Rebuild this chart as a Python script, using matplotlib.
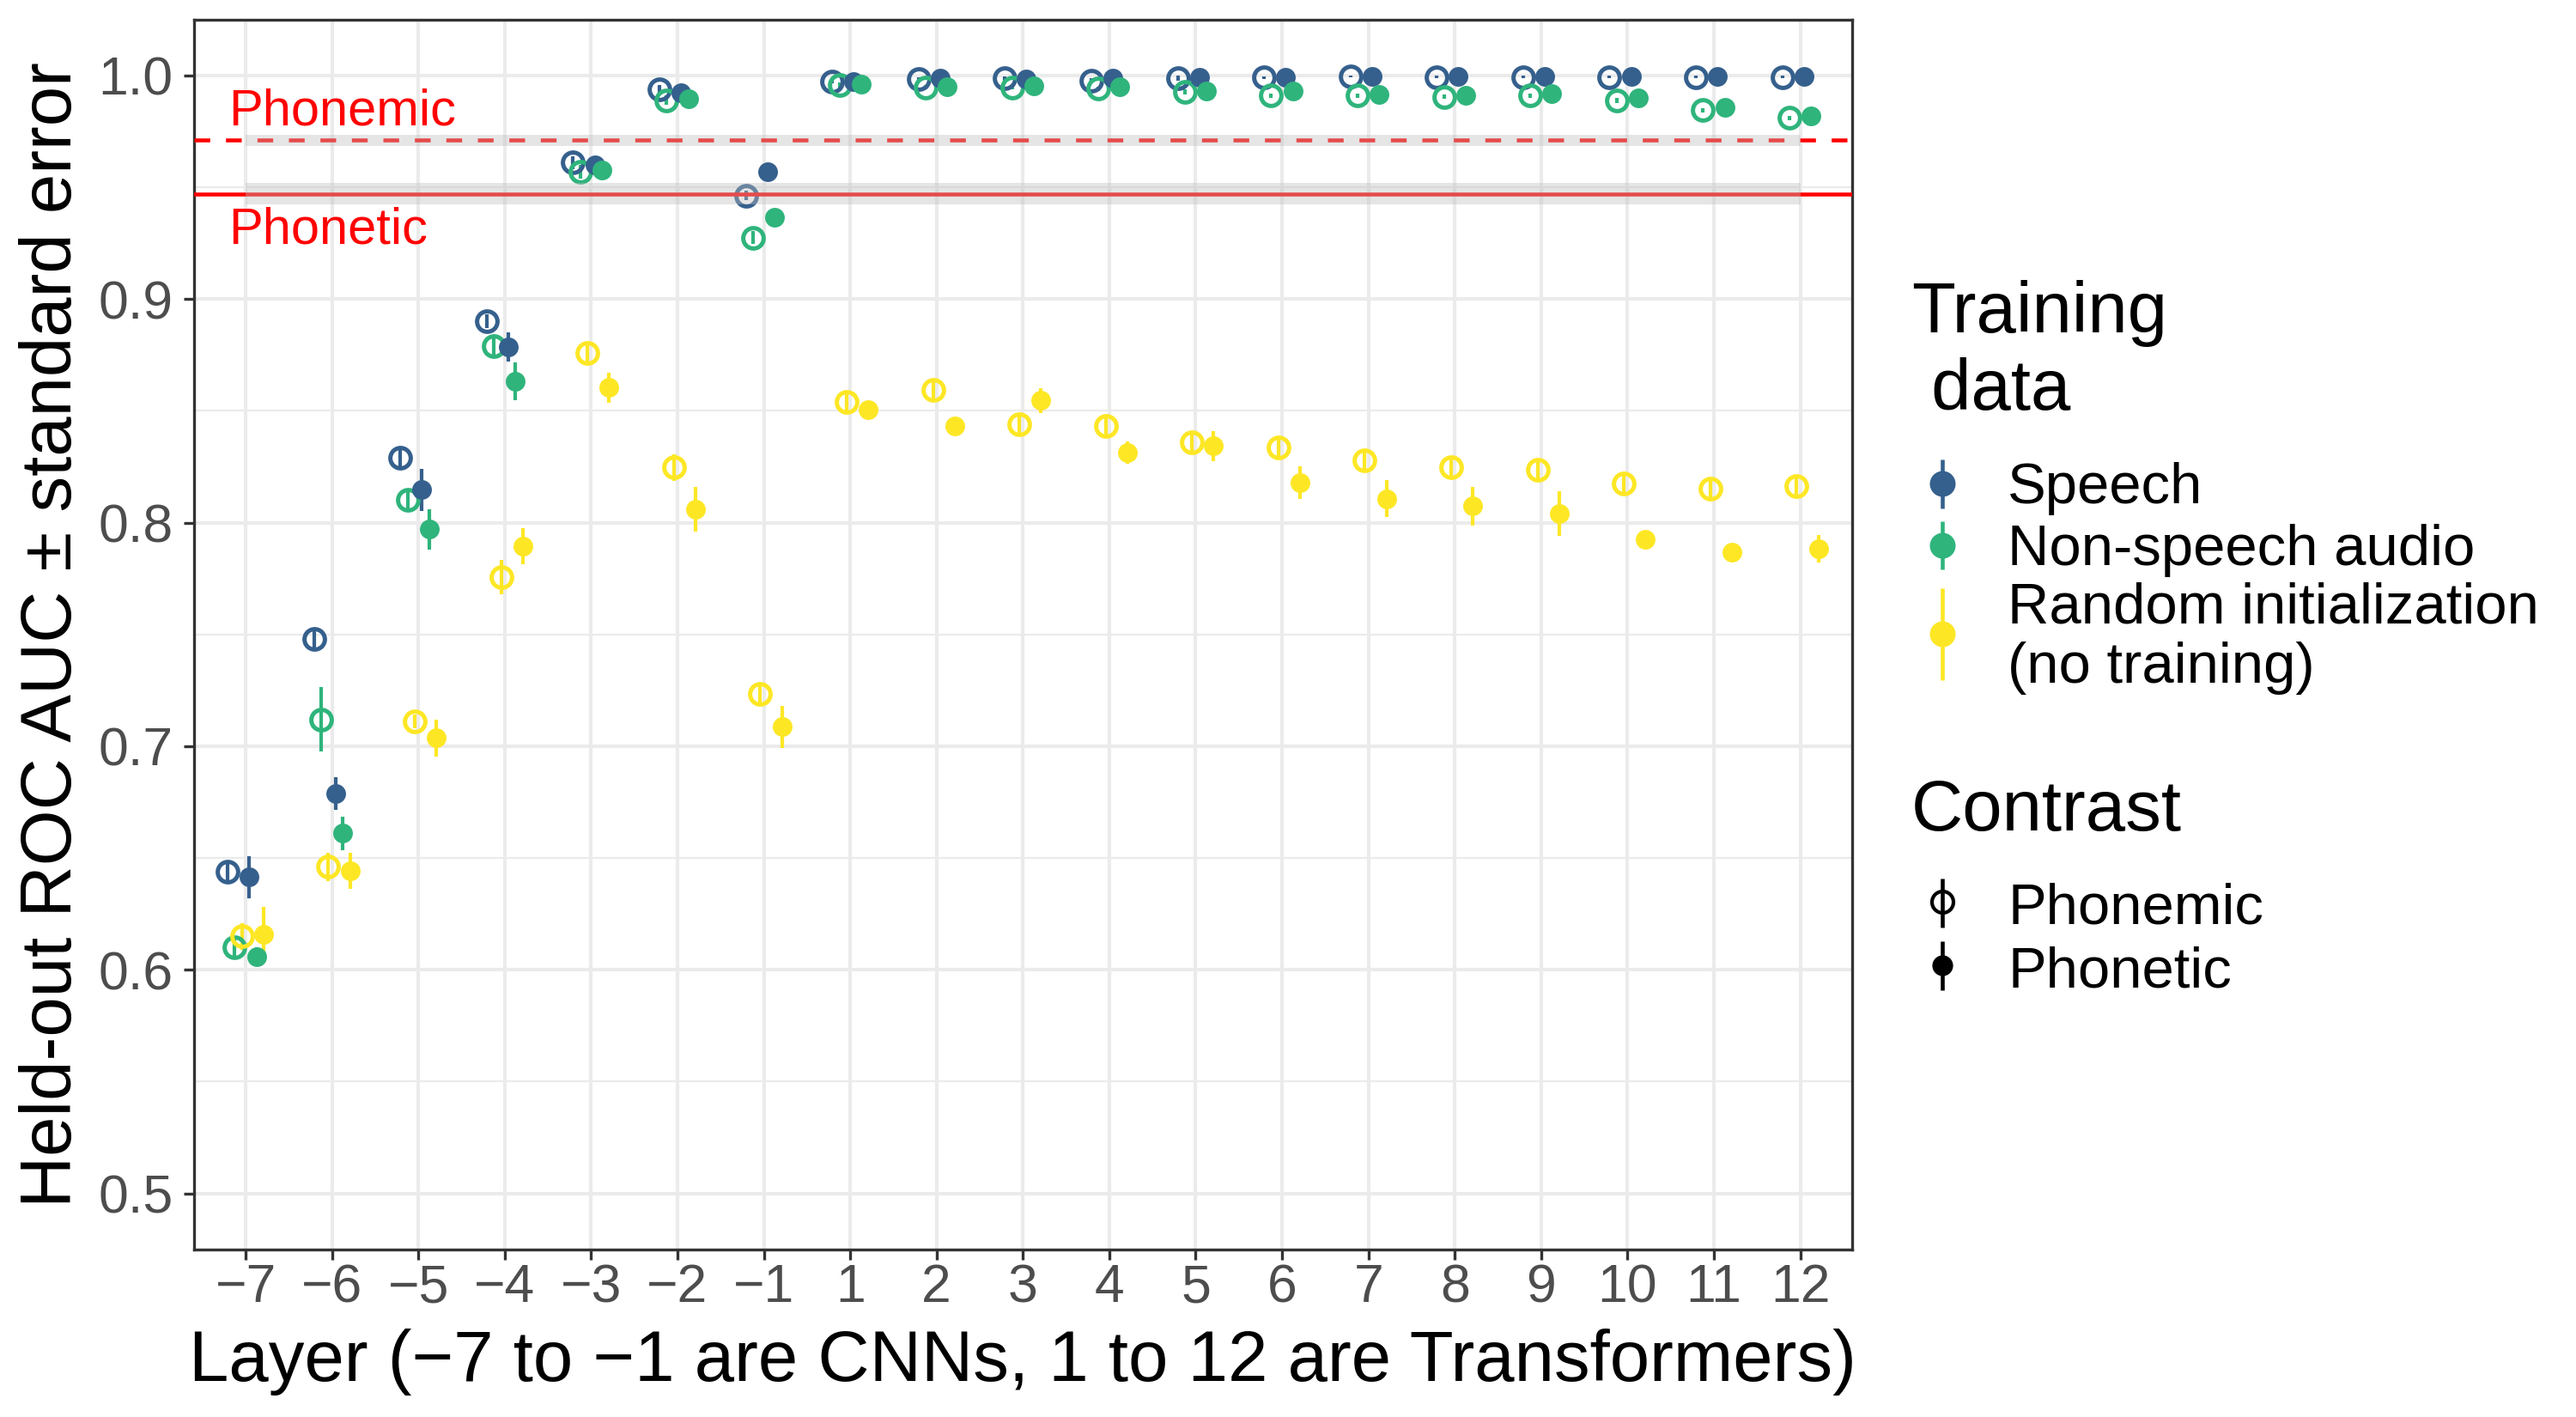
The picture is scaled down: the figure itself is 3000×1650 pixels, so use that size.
import matplotlib.pyplot as plt
from matplotlib.lines import Line2D
from matplotlib.ticker import FixedLocator
import numpy as np

plt.rcParams['font.family'] = ['Liberation Sans', 'DejaVu Sans']

# Layers: -7..-1 are CNN layers, 1..12 transformer layers
layers = ['−7', '−6', '−5', '−4', '−3', '−2', '−1',
          '1', '2', '3', '4', '5', '6', '7', '8', '9', '10', '11', '12']

training = ['Speech', 'Non-speech audio', 'Random initialization\n(no training)']
train_colors = ['#35608D', '#2FB47C', '#FDE725']
contrasts = ['Phonemic', 'Phonetic']

# held-out ROC AUC (mean) and standard error
speech_phonemic = [0.644, 0.748, 0.829, 0.890, 0.961, 0.9937, 0.9463, 0.9974, 0.9983, 0.9986,
                   0.9978, 0.9988, 0.9990, 0.9995, 0.9993, 0.9993, 0.9993, 0.9993, 0.9993]
speech_phonemic_se = [0.004, 0.004, 0.004, 0.003, 0.003, 0.002, 0.002, 0.001, 0.001, 0.001,
                      0.001, 0.001, 0.0005, 0.0005, 0.0005, 0.0005, 0.0005, 0.0005, 0.0005]
nonspeech_phonemic = [0.610, 0.712, 0.810, 0.879, 0.957, 0.9889, 0.9275, 0.9957, 0.9947, 0.9947,
                      0.9940, 0.9926, 0.9909, 0.9909, 0.9905, 0.9910, 0.9888, 0.9845, 0.9810]
nonspeech_phonemic_se = [0.004, 0.0145, 0.004, 0.004, 0.003, 0.002, 0.003, 0.001, 0.001, 0.001,
                         0.001, 0.001, 0.001, 0.001, 0.001, 0.001, 0.001, 0.001, 0.001]
random_phonemic = [0.615, 0.646, 0.711, 0.7757, 0.876, 0.8247, 0.7233, 0.8539, 0.8595, 0.8439,
                   0.8434, 0.8361, 0.8335, 0.8277, 0.8248, 0.8236, 0.8174, 0.8153, 0.8163]
random_phonemic_se = [0.006, 0.0063, 0.003, 0.0077, 0.004, 0.006, 0.005, 0.004, 0.004, 0.004,
                      0.004, 0.004, 0.004, 0.004, 0.004, 0.005, 0.004, 0.004, 0.004]

speech_phonetic = [0.6415, 0.679, 0.8147, 0.8785, 0.960, 0.9921, 0.9569, 0.9972, 0.9986, 0.9983,
                   0.9986, 0.9991, 0.9993, 0.9997, 0.9995, 0.9995, 0.9995, 0.9995, 0.9995]
speech_phonetic_se = [0.0094, 0.0073, 0.0094, 0.0065, 0.003, 0.002, 0.002, 0.001, 0.001, 0.001,
                      0.001, 0.001, 0.001, 0.001, 0.001, 0.001, 0.001, 0.001, 0.001]
nonspeech_phonetic = [0.606, 0.661, 0.797, 0.8631, 0.9578, 0.9895, 0.9364, 0.9960, 0.9950, 0.9952,
                      0.9950, 0.9931, 0.9930, 0.9916, 0.9909, 0.9919, 0.9898, 0.9857, 0.9820]
nonspeech_phonetic_se = [0.004, 0.0074, 0.009, 0.0085, 0.003, 0.002, 0.003, 0.001, 0.001, 0.001,
                         0.001, 0.001, 0.001, 0.001, 0.001, 0.001, 0.001, 0.001, 0.001]
random_phonetic = [0.616, 0.6442, 0.7037, 0.7895, 0.8604, 0.8058, 0.7087, 0.8504, 0.8434, 0.8546,
                   0.8313, 0.8342, 0.8179, 0.8107, 0.8074, 0.8041, 0.7926, 0.7869, 0.7883]
random_phonetic_se = [0.012, 0.008, 0.0083, 0.008, 0.0068, 0.010, 0.0094, 0.003, 0.003, 0.0055,
                      0.005, 0.0067, 0.0074, 0.0082, 0.0086, 0.010, 0.003, 0.003, 0.006]

# human reference levels with their standard errors
ref_phonemic, ref_phonemic_se = 0.971, 0.0026
ref_phonetic, ref_phonetic_se = 0.947, 0.0048

groups = [
    ('Phonemic', 0, speech_phonemic, speech_phonemic_se),
    ('Phonemic', 1, nonspeech_phonemic, nonspeech_phonemic_se),
    ('Phonemic', 2, random_phonemic, random_phonemic_se),
    ('Phonetic', 0, speech_phonetic, speech_phonetic_se),
    ('Phonetic', 1, nonspeech_phonetic, nonspeech_phonetic_se),
    ('Phonetic', 2, random_phonetic, random_phonetic_se),
]

W, H = 3000, 1650
fig = plt.figure(figsize=(10, 5.5), dpi=300)
ax = fig.add_axes([225.7 / W, 1 - 1454.7 / H, (2156.9 - 225.7) / W, (1454.7 - 22.7) / H])

x = np.arange(1, len(layers) + 1)
offsets = (np.arange(len(groups)) - 2.5) * (0.5 / len(groups))

# error bars first, then points (like geom_pointrange)
for k, (contrast, ti, vals, se) in enumerate(groups):
    v = np.array(vals)
    s = np.array(se)
    ax.vlines(x + offsets[k], v - s, v + s, color=train_colors[ti], lw=1.0, zorder=3)
for k, (contrast, ti, vals, se) in enumerate(groups):
    c = train_colors[ti]
    if contrast == 'Phonemic':
        ax.plot(x + offsets[k], vals, 'o', ms=5.7, mfc='none', mec=c, mew=1.2, zorder=4)
    else:
        ax.plot(x + offsets[k], vals, 'o', ms=5.5, mfc=c, mec=c, mew=0, zorder=4)

# reference lines + ribbons
ax.axhline(ref_phonemic, color='red', lw=1.1, ls=(0, (4, 4)), zorder=5)
ax.axhline(ref_phonetic, color='red', lw=1.1, zorder=5)
ax.fill_between([x[0], x[-1]], ref_phonemic - ref_phonemic_se, ref_phonemic + ref_phonemic_se,
                color='#BEBEBE', alpha=0.4, lw=0, zorder=6)
ax.fill_between([x[0], x[-1]], ref_phonetic - ref_phonetic_se, ref_phonetic + ref_phonetic_se,
                color='#BEBEBE', alpha=0.4, lw=0, zorder=6)
ax.text(0.8, 0.9778, 'Phonemic', color='red', fontsize=14.3, ha='left', va='baseline', zorder=7)
ax.text(0.8, 0.9249, 'Phonetic', color='red', fontsize=14.3, ha='left', va='baseline', zorder=7)

ax.set_xlim(0.4, len(layers) + 0.6)
ax.set_ylim(0.475, 1.025)
ax.set_xticks(x)
ax.set_xticklabels(layers)
ax.set_yticks([0.5, 0.6, 0.7, 0.8, 0.9, 1.0])
ax.set_yticklabels(['0.5', '0.6', '0.7', '0.8', '0.9', '1.0'])
ax.yaxis.set_minor_locator(FixedLocator([0.55, 0.65, 0.75, 0.85, 0.95]))
ax.set_axisbelow(True)
ax.grid(which='major', color='#EBEBEB', lw=1.0)
ax.grid(which='minor', axis='y', color='#EBEBEB', lw=0.55)
ax.tick_params(which='minor', length=0)
ax.tick_params(which='major', colors='#333333', length=2.9, width=0.8, labelsize=15,
               labelcolor='#4D4D4D')
ax.tick_params(axis='x', pad=0.8)
ax.tick_params(axis='y', pad=2.9)
for sp in ax.spines.values():
    sp.set_color('#333333')
    sp.set_linewidth(0.8)


def fx(px):
    return px / W


def fy(py):
    return 1 - py / H


fig.text(fx(83.3), fy(738.7), 'Held-out ROC AUC ± standard error', rotation=90,
         rotation_mode='anchor', ha='center', va='baseline', fontsize=20)
fig.text(fx(1191.3), fy(1608), 'Layer (−7 to −1 are CNNs, 1 to 12 are Transformers)',
         ha='center', va='baseline', fontsize=20)


# legend, drawn by hand in ggplot style
def key(xc, y1, y2, yc, color, ms, filled, mew=0):
    fig.add_artist(Line2D([fx(xc), fx(xc)], [fy(y1), fy(y2)], color=color, lw=1.1,
                          solid_capstyle='butt'))
    fig.add_artist(Line2D([fx(xc)], [fy(yc)], marker='o', ls='none', ms=ms,
                          mfc=color if filled else 'none', mec=color, mew=mew))


kx, lx = 2261.7, 2338
lab_fs = 16.1
fig.text(fx(2226), fy(387), 'Training', fontsize=20, va='baseline')
fig.text(fx(2226), fy(476.7), ' data', fontsize=20, va='baseline')
key(kx, 535, 591.7, 563.3, train_colors[0], 7.2, True)
key(kx, 606.7, 663.3, 635, train_colors[1], 7.2, True)
key(kx, 685, 791.7, 738.3, train_colors[2], 7.2, True)
fig.text(fx(lx), fy(586), training[0], fontsize=lab_fs, va='baseline')
fig.text(fx(lx), fy(658.3), training[1], fontsize=lab_fs, va='baseline')
rnd1, rnd2 = training[2].split('\n')
fig.text(fx(lx), fy(725.5), rnd1, fontsize=lab_fs, va='baseline')
fig.text(fx(lx), fy(795), rnd2, fontsize=lab_fs, va='baseline')

fig.text(fx(2226), fy(966.7), 'Contrast', fontsize=20, va='baseline')
key(kx, 1023, 1080, 1050, 'black', 6.0, False, mew=1.0)
key(kx, 1096, 1152.7, 1124, 'black', 5.8, True)
fig.text(fx(lx), fy(1075.7), contrasts[0], fontsize=lab_fs, va='baseline')
fig.text(fx(lx), fy(1150), contrasts[1], fontsize=lab_fs, va='baseline')

fig.savefig('out.png', dpi=300)
